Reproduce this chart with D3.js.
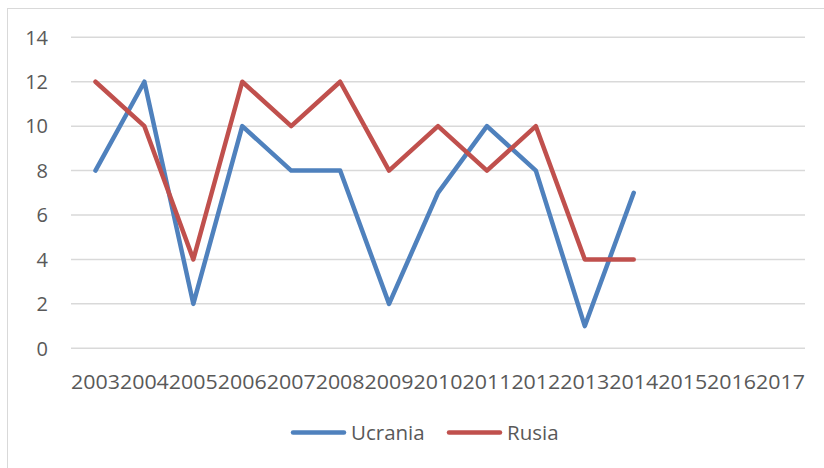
<!DOCTYPE html>
<html><head><meta charset="utf-8">
<script src="https://cdn.jsdelivr.net/npm/d3@7"></script>
<style>body{margin:0;background:#fff}svg{display:block}</style>
</head><body><svg id="c" width="824" height="468"></svg>
<script>
const years = ["2003","2004","2005","2006","2007","2008","2009","2010","2011","2012","2013","2014","2015","2016","2017"];
const ucrania = [8,12,2,10,8,8,2,7,10,8,1,7];
const rusia = [12,10,4,12,10,12,8,10,8,10,4,4];
const yTicks = [0,2,4,6,8,10,12,14];
const seriesNames = ["Ucrania","Rusia"];
const colors = ["#4F81BD","#C0504D"];

const svg = d3.select("#c");
const font = "'Open Sans', 'Liberation Sans', sans-serif";
svg.append("rect").attr("x",7.5).attr("y",8.5).attr("width",830).attr("height",470)
  .attr("fill","#fff").attr("stroke","#d9d9d9").attr("stroke-width",1);

const x = d3.scaleBand().domain(years).range([71,805]);
const y = d3.scaleLinear().domain([0,14]).range([348.3,37.3]);

const g = svg.append("g");
g.selectAll("line.grid").data(yTicks).join("line")
  .attr("x1",71).attr("x2",805).attr("y1",d=>y(d)).attr("y2",d=>y(d))
  .attr("stroke","#d9d9d9").attr("stroke-width",1.5);

g.selectAll("text.yl").data(yTicks).join("text")
  .attr("x",48).attr("y",d=>y(d)).attr("dy","0.36em").attr("text-anchor","end")
  .attr("font-family",font).attr("font-size",20).attr("fill","#595959").text(d=>d);

g.selectAll("text.xl").data(years).join("text")
  .attr("x",d=>x(d)+x.bandwidth()/2).attr("y",389).attr("text-anchor","middle")
  .attr("font-family",font).attr("font-size",20).attr("fill","#595959")
  .attr("textLength",x.bandwidth()).attr("lengthAdjust","spacingAndGlyphs").text(d=>d);

const line = d3.line().x((d,i)=>x(years[i])+x.bandwidth()/2).y(d=>y(d));
[ucrania,rusia].forEach((s,k)=>{
  g.append("path").datum(s).attr("d",line).attr("fill","none")
   .attr("stroke",colors[k]).attr("stroke-width",4.5)
   .attr("stroke-linejoin","round").attr("stroke-linecap","round");
});

const legX = [291,447];
seriesNames.forEach((n,k)=>{
  g.append("line").attr("x1",legX[k]+2).attr("x2",legX[k]+53).attr("y1",432.5).attr("y2",432.5)
   .attr("stroke",colors[k]).attr("stroke-width",4.5).attr("stroke-linecap","round");
  g.append("text").attr("x",legX[k]+60).attr("y",432.5).attr("dy","0.36em")
   .attr("font-family",font).attr("font-size",20.5).attr("fill","#595959").text(n);
});
</script></body></html>
